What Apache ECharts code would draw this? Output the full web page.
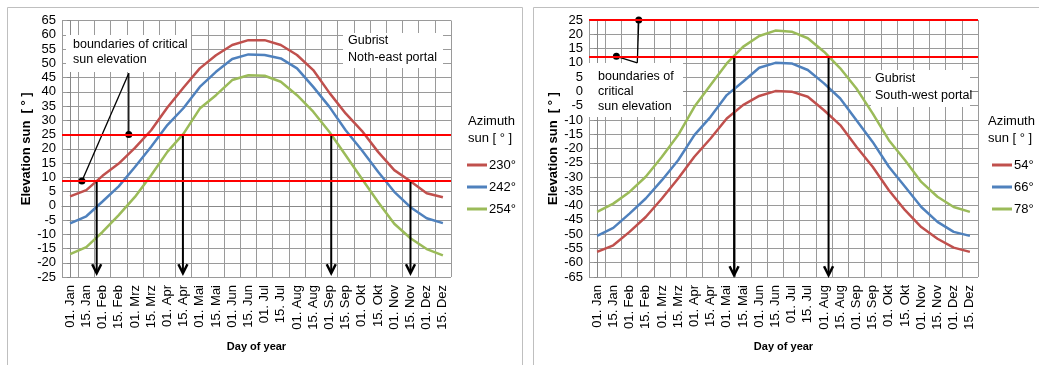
<!DOCTYPE html>
<html>
<head>
<meta charset="utf-8">
<script src="https://cdn.jsdelivr.net/npm/echarts@6/dist/echarts.min.js"></script>
<style>
html,body{margin:0;padding:0;background:#fff;}
#chart{width:1039px;height:365px;}
</style>
</head>
<body>
<div id="chart"></div>
<script>
// ---------- data ----------
const dayLabels = ['01. Jan','15. Jan','01. Feb','15. Feb','01. Mrz','15. Mrz','01. Apr','15. Apr','01. Mai','15. Mai','01. Jun','15. Jun',
                   '01. Jul','15. Jul','01. Aug','15. Aug','01. Sep','15. Sep','01. Okt','15. Okt','01. Nov','15. Nov','01. Dez','15. Dez'];

// North-east portal (azimuth 230°, 242°, 254°)
const ne230 = [3.3, 5.5, 10.5, 14.8, 20.3, 26.5, 34.5, 41.5, 48.2, 52.8, 56.4, 58.1, 58.1, 56.4, 52.9, 47.6, 39.6, 32.4, 26.3, 18.9, 12.5, 8.6, 4.4, 3.0];
const ne242 = [-6.2, -3.7, 1.5, 6.8, 13.6, 20.7, 28.3, 34.3, 41.7, 47.0, 51.5, 53.1, 52.9, 51.7, 48.2, 41.7, 34.7, 26.5, 19.5, 11.9, 4.9, -0.5, -4.4, -6.1];
const ne254 = [-17.0, -14.5, -9.2, -3.3, 3.1, 10.7, 18.9, 25.3, 34.1, 38.8, 44.1, 45.8, 45.6, 43.5, 38.8, 33.0, 25.9, 17.7, 9.5, 1.3, -6.3, -11.4, -15.2, -17.4];

// South-west portal (azimuth 54°, 66°, 78°)
const sw54 = [-56.2, -53.9, -49.2, -44.0, -37.5, -30.5, -22.9, -16.5, -9.5, -4.8, -1.6, 0.1, -0.1, -1.9, -6.6, -11.8, -19.4, -26.4, -34.6, -41.6, -47.5, -51.6, -54.7, -56.2];
const sw66 = [-50.6, -47.8, -42.8, -37.5, -31.1, -24.1, -15.3, -8.9, -1.3, 3.4, 8.3, 10.0, 9.8, 7.5, 2.8, -2.5, -10.1, -17.7, -26.4, -33.4, -40.5, -45.7, -49.2, -50.6];
const sw78 = [-42.2, -39.3, -35.2, -29.9, -22.9, -15.3, -5.4, 2.2, 9.8, 15.6, 19.4, 21.3, 20.9, 18.6, 13.9, 8.1, 1.0, -7.7, -17.1, -24.1, -31.7, -36.9, -40.5, -42.2];

// critical elevation boundaries
const neBounds = [25, 8.7];
const swBounds = [25, 12.3];

// arrows: [day position (category index), start elevation, end elevation]
const neArrows = [[1.64, 8.7, -23.7], [6.96, 25, -23.7], [16.11, 25, -23.7], [21.0, 8.7, -23.7]];
const swArrows = [[8.45, 12.3, -64.4], [14.28, 12.3, -64.4]];

// leader lines from annotation box: [x1, y1, x2 (dot), y2 (dot)]
const neLeaders = [[3.62, 46.5, 3.62, 25], [3.62, 46.5, 0.73, 8.7]];
const swLeaders = [[2.48, 10.0, 2.57, 25], [2.48, 10.0, 1.19, 12.3]];

// axis ranges
const neYRange = [-25, 65];
const swYRange = [-65, 25];

// ---------- chart ----------
const FONT = "'Liberation Sans', Arial, sans-serif";
const RED = '#C0504D', BLUE = '#4F81BD', GREEN = '#9BBB59';
const GRID_COLOR = '#9a9a9a';

const chart = echarts.init(document.getElementById('chart'), null, {renderer: 'canvas'});

function catAxis(gridIndex) {
  return {
    type: 'category', gridIndex, data: dayLabels, boundaryGap: true,
    axisLine: {lineStyle: {color: '#888', width: 1}},
    axisTick: {show: false},
    axisLabel: {interval: 0, rotate: 90, margin: 8, fontSize: 13, color: '#000', fontFamily: FONT},
    splitLine: {show: true, interval: 0, lineStyle: {color: GRID_COLOR, width: 1}},
    name: 'Day of year', nameLocation: 'middle', nameGap: 64,
    nameTextStyle: {fontWeight: 'bold', fontSize: 11, color: '#000', fontFamily: FONT}
  };
}
function valXAxis(gridIndex) {
  return {type: 'value', gridIndex, min: -0.5, max: 23.5, show: false};
}
function yAxis(gridIndex, range, gap) {
  return {
    type: 'value', gridIndex, min: range[0], max: range[1], interval: 5,
    axisLine: {show: true, lineStyle: {color: '#888', width: 1}},
    axisTick: {show: true, length: 3, lineStyle: {color: '#888'}},
    axisLabel: {fontSize: 13, color: '#000', fontFamily: FONT, margin: 6},
    splitLine: {show: true, lineStyle: {color: GRID_COLOR, width: 1}},
    name: 'Elevation sun  [ ° ]', nameLocation: 'middle', nameGap: gap,
    nameTextStyle: {fontWeight: 'bold', fontSize: 13, color: '#000', fontFamily: FONT}
  };
}
function lineSeries(name, data, color, xi, yi, bounds) {
  const s = {
    name, type: 'line', data, xAxisIndex: xi, yAxisIndex: yi,
    symbol: 'none', smooth: false, z: 3,
    lineStyle: {color, width: 2.5}, itemStyle: {color}
  };
  if (bounds) {
    s.markLine = {
      silent: true, symbol: ['none', 'none'], animation: false,
      label: {show: false},
      lineStyle: {color: '#ff0000', width: 2, type: 'solid'},
      data: bounds.map(v => ({yAxis: v}))
    };
  }
  return s;
}
function arrowSeries(data, xi, yi) {
  return {
    type: 'custom', xAxisIndex: xi, yAxisIndex: yi, data, z: 4, silent: true,
    renderItem: function (params, api) {
      const x = api.value(0);
      const p0 = api.coord([x, api.value(1)]);
      const p1 = api.coord([x, api.value(2)]);
      return {
        type: 'group', children: [
          {type: 'line', shape: {x1: p0[0], y1: p0[1], x2: p1[0], y2: p1[1] - 1}, style: {stroke: '#000', lineWidth: 2}},
          {type: 'polyline', shape: {points: [[p1[0] - 4.5, p1[1] - 9], [p1[0], p1[1]], [p1[0] + 4.5, p1[1] - 9]]},
           style: {stroke: '#000', lineWidth: 2.5, fill: null}}
        ]
      };
    }
  };
}
function leaderSeries(data, xi, yi) {
  return {
    type: 'custom', xAxisIndex: xi, yAxisIndex: yi, data, z: 4, silent: true,
    renderItem: function (params, api) {
      const a = api.coord([api.value(0), api.value(1)]);
      const b = api.coord([api.value(2), api.value(3)]);
      return {
        type: 'group', children: [
          {type: 'line', shape: {x1: a[0], y1: a[1], x2: b[0], y2: b[1]}, style: {stroke: '#000', lineWidth: 1.3}},
          {type: 'circle', shape: {cx: b[0], cy: b[1], r: 3.5}, style: {fill: '#000'}}
        ]
      };
    }
  };
}
function textBox(x, y, w, h, tx, ty, text, size, lh) {
  return {
    type: 'group', z: 1, children: [
      {type: 'rect', shape: {x, y, width: w, height: h}, style: {fill: '#fff'}, z: 1},
      {type: 'text', x: tx, y: ty, z: 2, style: {text, fill: '#000', font: size + 'px ' + FONT, lineHeight: lh, verticalAlign: 'top'}}
    ]
  };
}

const option = {
  animation: false,
  backgroundColor: '#fff',
  grid: [
    {left: 62, top: 20.5, width: 389, height: 256.5, containLabel: false},
    {left: 589, top: 20, width: 389, height: 257, containLabel: false}
  ],
  xAxis: [catAxis(0), catAxis(1), valXAxis(0), valXAxis(1)],
  yAxis: [yAxis(0, neYRange, 25), yAxis(1, swYRange, 28)],
  legend: [
    {data: ['230°', '242°', '254°'], orient: 'vertical', left: 467, top: 158.5, padding: 0,
     itemWidth: 20, itemHeight: 3, itemGap: 9, icon: 'rect',
     textStyle: {fontSize: 13, color: '#000', fontFamily: FONT, padding: [0, 0, 0, -3]}},
    {data: ['54°', '66°', '78°'], orient: 'vertical', left: 992, top: 158.5, padding: 0,
     itemWidth: 20, itemHeight: 3, itemGap: 9, icon: 'rect',
     textStyle: {fontSize: 13, color: '#000', fontFamily: FONT, padding: [0, 0, 0, -3]}}
  ],
  graphic: [
    {type: 'rect', shape: {x: 7.5, y: 7.5, width: 515, height: 380}, style: {fill: null, stroke: '#bfbfbf', lineWidth: 1}, z: 0},
    {type: 'rect', shape: {x: 533.5, y: 7.5, width: 520, height: 380}, style: {fill: null, stroke: '#bfbfbf', lineWidth: 1}, z: 0},
    textBox(66, 35, 125, 37, 73, 37, 'boundaries of critical\nsun elevation', 12.5, 15),
    textBox(343, 33, 100, 35, 348, 32, 'Gubrist\nNoth-east portal', 12.5, 17),
    textBox(588, 63, 95, 54, 598, 69, 'boundaries of\ncritical\nsun elevation', 12.5, 15),
    textBox(871, 70, 99, 37, 875, 70.5, 'Gubrist\nSouth-west portal', 12.5, 17),
    {type: 'text', x: 468, y: 113, z: 2, style: {text: 'Azimuth\nsun [ ° ]', fill: '#000', font: '13px ' + FONT, lineHeight: 17, verticalAlign: 'top'}},
    {type: 'text', x: 988, y: 113, z: 2, style: {text: 'Azimuth\nsun [ ° ]', fill: '#000', font: '13px ' + FONT, lineHeight: 17, verticalAlign: 'top'}}
  ],
  series: [
    lineSeries('230°', ne230, RED, 0, 0, neBounds),
    lineSeries('242°', ne242, BLUE, 0, 0),
    lineSeries('254°', ne254, GREEN, 0, 0),
    lineSeries('54°', sw54, RED, 1, 1, swBounds),
    lineSeries('66°', sw66, BLUE, 1, 1),
    lineSeries('78°', sw78, GREEN, 1, 1),
    arrowSeries(neArrows, 2, 0),
    arrowSeries(swArrows, 3, 1),
    leaderSeries(neLeaders, 2, 0),
    leaderSeries(swLeaders, 3, 1)
  ]
};
chart.setOption(option);
</script>
</body>
</html>
